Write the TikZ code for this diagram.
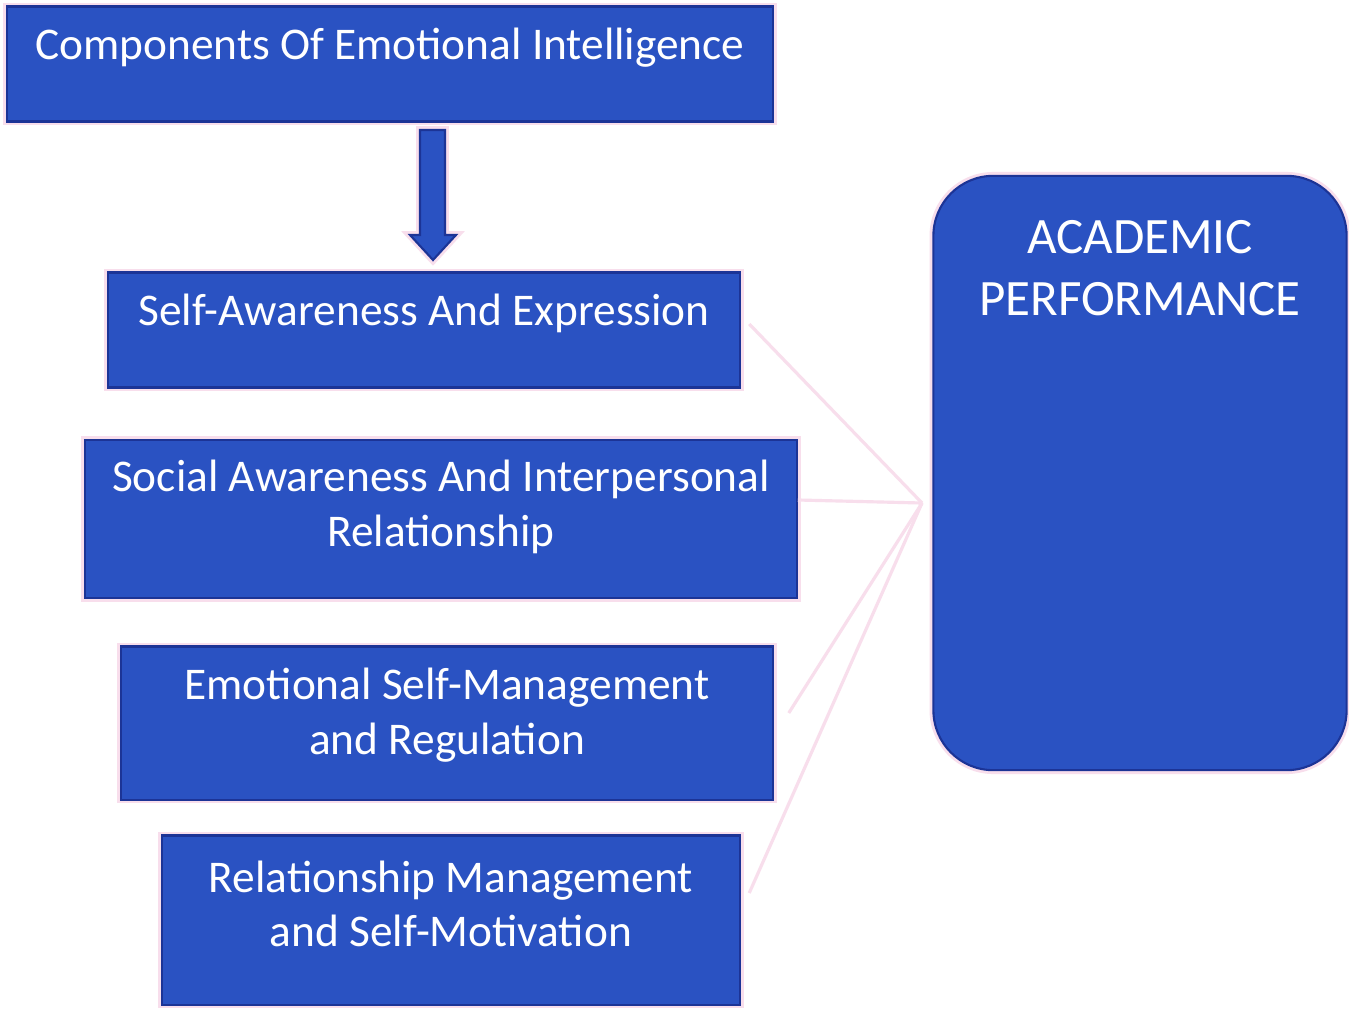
\documentclass[tikz,border=0pt]{standalone}
\usepackage{fontspec}
\setmainfont{Carlito}
\usetikzlibrary{positioning}
\definecolor{eiblue}{RGB}{42,82,194}
\definecolor{eiedge}{RGB}{28,52,150}
\definecolor{eipink}{RGB}{248,222,236}
\tikzset{
  eibox/.style={draw=eiedge, line width=0.6pt, fill=eiblue,
    preaction={draw=eipink, line width=2.2pt}, inner sep=0pt},
  eitext/.style={text=white, font=\fontsize{12.9}{15.5}\selectfont, align=center},
  hubline/.style={draw=eipink, line width=0.9pt}
}
\begin{document}
\begin{tikzpicture}[x=0.01cm, y=-0.01cm]
    \useasboundingbox (0,0) rectangle (1349,1012);
    \fill [white] (0,0) rectangle (1349,1012);

    % left column
    \node [eibox, minimum width=7.65cm, minimum height=1.15cm] (comp) at (390,64) {};
    \node [eibox, minimum width=6.32cm, minimum height=1.15cm] (selfaw) at (424,330) {};
    \node [eibox, minimum width=7.11cm, minimum height=1.58cm] (social) at (441,519) {};
    \node [eibox, minimum width=6.51cm, minimum height=1.53cm] (emoman) at (447,723) {};
    \node [eibox, minimum width=5.78cm, minimum height=1.69cm] (relman) at (451,920) {};

    \node [eitext] (comptxt) at ([yshift=0.16cm]comp.center) {Components Of Emotional Intelligence};
    \node [eitext] (selfawtxt) at ([yshift=0.17cm]selfaw.center) {Self-Awareness And Expression};
    \node [eitext] (socialtxt) at ([yshift=0.12cm]social.center) {Social Awareness And Interpersonal\\Relationship};
    \node [eitext] (emomantxt) at ([yshift=0.08cm]emoman.center) {Emotional Self-Management\\and Regulation};
    \node [eitext] (relmantxt) at ([yshift=0.16cm]relman.center) {Relationship Management\\and Self-Motivation};

    % block arrow
    \draw [eiedge, line width=0.6pt, fill=eiblue, preaction={draw=eipink, line width=2.2pt}]
        (420,130) -- (445,130) -- (445,235) -- (456,235) -- (433,260) -- (410,235) -- (420,235) -- cycle;

    % right box
    \node [eibox, rounded corners=0.6cm, minimum width=4.13cm, minimum height=5.94cm] (acad) at (1140,473) {};
    \node [eitext, font=\fontsize{14.5}{17.5}\selectfont] (acadtxt) at (1140,268) {ACADEMIC\\PERFORMANCE};

    % connectors
    \coordinate (hub) at (922,503);
    \draw [hubline] ([xshift=0.08cm, yshift=0.06cm]selfaw.east) -- (hub);
    \draw [hubline] ([yshift=0.19cm]social.east) -- (hub);
    \draw [hubline] ([xshift=0.15cm, yshift=0.1cm]emoman.east) -- (hub);
    \draw [hubline] ([xshift=0.08cm, yshift=0.27cm]relman.east) -- (hub);
\end{tikzpicture}
\end{document}
